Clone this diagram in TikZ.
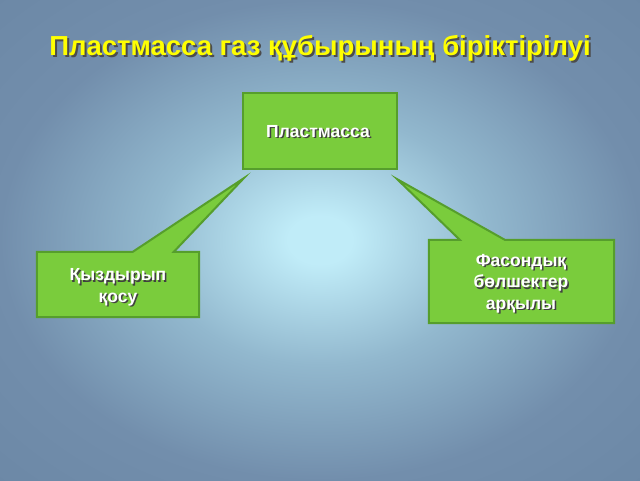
\documentclass[tikz,border=0pt]{standalone}
\usepackage{fontspec}
\setmainfont{Liberation Sans}
\usetikzlibrary{calc}
\definecolor{bgin}{RGB}{192,236,248}
\definecolor{bgmid}{RGB}{146,184,206}
\definecolor{bgout}{RGB}{114,142,172}
\definecolor{bgcorner}{RGB}{108,136,166}
\definecolor{boxfill}{RGB}{122,204,60}
\definecolor{boxline}{RGB}{86,158,44}
\definecolor{titleyellow}{RGB}{255,255,0}
\pgfdeclareradialshading{bgshade}{\pgfpoint{0bp}{0bp}}{color(0bp)=(bgin); color(2.5bp)=(bgin); color(13bp)=(bgmid); color(25bp)=(bgout); color(36bp)=(bgcorner); color(50bp)=(bgcorner)}
\tikzset{
  callout/.style={fill=boxfill, draw=boxline, line width=2pt, line join=miter, miter limit=20},
  boxtext/.style={text=white, font=\bfseries\fontsize{17.5}{21.5}\selectfont, align=center, inner sep=0pt},
  boxshadow/.style={text=black!75, font=\bfseries\fontsize{17.5}{21.5}\selectfont, align=center, inner sep=0pt},
  plainbox/.style={rectangle, inner sep=0pt},
  titletext/.style={text=titleyellow, font=\bfseries\fontsize{27.5}{32}\selectfont, inner sep=0pt},
  titleshadow/.style={text=black!70, font=\bfseries\fontsize{27.5}{32}\selectfont, inner sep=0pt}
}
\begin{document}
\begin{tikzpicture}[x=1pt,y=-1pt]
\useasboundingbox (0,0) rectangle (640,480);
\shade[shading=bgshade] (0,0) rectangle (640,480);

% title
\node[titleshadow] at (322,50) {Пластмасса газ құбырының біріктірілуі};
\node[titletext] (title) at (320,48) {Пластмасса газ құбырының біріктірілуі};

% top box
\node[plainbox, minimum width=154pt, minimum height=76pt] (P) at (320,131) {};
\draw[callout] (P.north west) rectangle (P.south east);
\node[boxshadow] at (319.5,133) {Пластмасса};
\node[boxtext] (Ptext) at (318,131.5) {Пластмасса};

% tail tips
\coordinate (tipL) at ($(P.south west)+(1,9)$);
\coordinate (tipR) at ($(P.south east)+(0,10)$);

% left callout
\node[plainbox, minimum width=162pt, minimum height=65pt] (L) at (118,284.5) {};
\draw[callout] (L.north west) -- ($(L.north west)+(96,0)$) -- (tipL) -- ($(L.north west)+(137,0)$)
  -- (L.north east) -- (L.south east) -- (L.south west) -- cycle;
\node[boxshadow] at (119.5,289) {Қыздырып\\қосу};
\node[boxtext] (Ltext) at (118,287.5) {Қыздырып\\қосу};

% right callout
\node[plainbox, minimum width=185pt, minimum height=83pt] (R) at (521.5,281.5) {};
\draw[callout] (R.north west) -- ($(R.north west)+(31,0)$) -- (tipR) -- ($(R.north west)+(76,0)$)
  -- (R.north east) -- (R.south east) -- (R.south west) -- cycle;
\node[boxshadow] at (522.5,285) {Фасондық\\бөлшектер\\арқылы};
\node[boxtext] (Rtext) at (521,283.5) {Фасондық\\бөлшектер\\арқылы};
\end{tikzpicture}
\end{document}
